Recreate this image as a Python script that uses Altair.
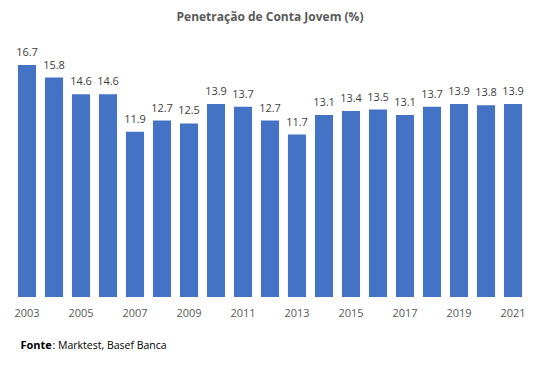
import altair as alt
import pandas as pd

years = list(range(2003, 2022))
values = [16.7, 15.8, 14.6, 14.6, 11.9, 12.7, 12.5, 13.9, 13.7, 12.7,
          11.7, 13.1, 13.4, 13.5, 13.1, 13.7, 13.9, 13.8, 13.9]
tick_years = [2003, 2005, 2007, 2009, 2011, 2013, 2015, 2017, 2019, 2021]

df = pd.DataFrame({"year": years, "value": values})
FONT = "Open Sans"

base = alt.Chart(df).encode(
    x=alt.X("year:O", title=None,
            scale=alt.Scale(paddingInner=0.33, paddingOuter=0.165),
            axis=alt.Axis(values=tick_years, labelAngle=0, ticks=False, domain=False,
                          labelPadding=10, labelFontSize=11, labelColor="#595959",
                          labelFont=FONT)),
    y=alt.Y("value:Q", title=None, scale=alt.Scale(domain=[0, 18], nice=False),
            axis=None),
)

bars = base.mark_bar(color="#4472C4")
labels = base.mark_text(baseline="bottom", dy=-7, fontSize=11, color="#404040",
                        font=FONT).encode(text=alt.Text("value:Q", format=".1f"))

foot1 = alt.Chart(pd.DataFrame({"t": ["Fonte"]})).mark_text(
    align="left", baseline="middle", fontSize=11, fontWeight="bold", color="#000000", font=FONT
).encode(x=alt.value(7), y=alt.value(299), text="t:N")
foot2 = alt.Chart(pd.DataFrame({"t": [": Marktest, Basef Banca"]})).mark_text(
    align="left", baseline="middle", fontSize=10.5, color="#000000", font=FONT
).encode(x=alt.value(39), y=alt.value(299), text="t:N")

chart = alt.layer(bars, labels, foot1, foot2).properties(
    width=513, height=250,
    title=alt.TitleParams("Penetração de Conta Jovem (%)", fontSize=12, fontWeight="bold",
                          color="#595959", font=FONT, anchor="middle", offset=23),
    autosize=alt.AutoSizeParams(type="none"),
    padding={"left": 5.5, "top": 39, "right": 8.5, "bottom": 66},
).configure_view(stroke=None)

chart.save("out.html", embed_options={"renderer": "svg", "actions": False})
